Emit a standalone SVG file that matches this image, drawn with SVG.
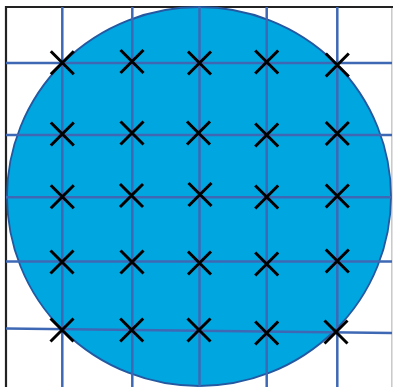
<svg xmlns="http://www.w3.org/2000/svg" width="393" height="387" viewBox="0 0 393 387">
<style>
.grid{stroke:#3E68B4;stroke-width:2.5;fill:none}
.x{stroke:#000;stroke-width:3;fill:none}
</style>
<defs>
<path id="xm" class="x" d="M-11.5,-11.5L11.5,11.5M11.5,-11.5L-11.5,11.5"/>
</defs>
<rect x="0" y="0" width="393" height="387" fill="#fff"/>
<g id="frame">
<line x1="391.8" y1="7" x2="391.8" y2="387" stroke="#c8c8c8" stroke-width="1.5"/>
<line x1="6" y1="7" x2="393" y2="7" stroke="#222" stroke-width="2"/>
<line x1="6" y1="6" x2="6" y2="387" stroke="#222" stroke-width="2.2"/>
</g>
<g id="wafer">
<ellipse cx="199" cy="196.5" rx="192" ry="189.5" fill="#00A6E0" stroke="#2458A0" stroke-width="1.8"/>
</g>
<g id="connectors">
<line class="grid" x1="62.3" y1="7" x2="62.3" y2="387"/>
<line class="grid" x1="132.3" y1="7" x2="132.3" y2="387"/>
<line class="grid" x1="199.5" y1="7" x2="199.5" y2="387"/>
<line class="grid" x1="266.7" y1="7" x2="266.7" y2="387"/>
<line class="grid" x1="337.3" y1="7" x2="337.3" y2="387"/>
<line class="grid" x1="6" y1="63" x2="392" y2="63"/>
<line class="grid" x1="6" y1="135" x2="392" y2="135"/>
<line class="grid" x1="6" y1="197.3" x2="392" y2="197.3"/>
<line class="grid" x1="6" y1="261.5" x2="392" y2="261.5"/>
<line class="grid" x1="6" y1="328.5" x2="392" y2="333"/>
</g>
<g id="marks">
<use href="#xm" x="62.3" y="62.7"/>
<use href="#xm" x="132" y="61.5"/>
<use href="#xm" x="199.5" y="63"/>
<use href="#xm" x="266.7" y="62"/>
<use href="#xm" x="337.3" y="65"/>
<use href="#xm" x="62.3" y="134"/>
<use href="#xm" x="132" y="133"/>
<use href="#xm" x="198.5" y="133"/>
<use href="#xm" x="266.7" y="135"/>
<use href="#xm" x="337.3" y="133.5"/>
<use href="#xm" x="62.3" y="196.7"/>
<use href="#xm" x="131.5" y="195.5"/>
<use href="#xm" x="200" y="194.5"/>
<use href="#xm" x="266.7" y="197"/>
<use href="#xm" x="337.3" y="196"/>
<use href="#xm" x="62" y="262"/>
<use href="#xm" x="132" y="262"/>
<use href="#xm" x="199.5" y="263"/>
<use href="#xm" x="266.7" y="264"/>
<use href="#xm" x="337.3" y="261"/>
<use href="#xm" x="62" y="330"/>
<use href="#xm" x="131.7" y="330"/>
<use href="#xm" x="199" y="330"/>
<use href="#xm" x="266.7" y="333"/>
<use href="#xm" x="336" y="332"/>
</g>
</svg>
